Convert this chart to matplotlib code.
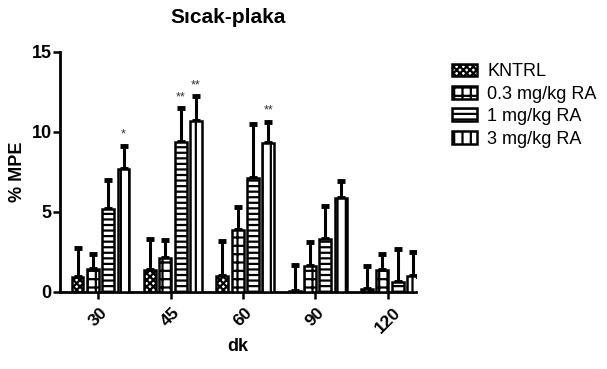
import matplotlib
matplotlib.use("Agg")
import matplotlib.pyplot as plt
import numpy as np

plt.rcParams['font.family'] = ['Liberation Sans', 'DejaVu Sans']
plt.rcParams['hatch.linewidth'] = 1.6

categories = ["30", "45", "60", "90", "120"]
series = ["KNTRL", "0.3 mg/kg RA", "1 mg/kg RA", "3 mg/kg RA"]
kntrl = [0.94, 1.4, 1.0, 0.05, 0.2]
kntrl_err = [1.8, 1.9, 2.2, 1.65, 1.4]
ra03 = [1.44, 2.1, 3.9, 1.6, 1.4]
ra03_err = [0.95, 1.15, 1.4, 1.5, 1.0]
ra1 = [5.2, 9.4, 7.1, 3.3, 0.65]
ra1_err = [1.8, 2.1, 3.4, 2.1, 2.05]
ra3 = [7.7, 10.7, 9.3, 5.9, 1.0]
ra3_err = [1.45, 1.55, 1.35, 1.05, 1.5]
stars = {(0, 3): "*", (1, 2): "**", (1, 3): "**", (2, 3): "**"}

values = [kntrl, ra03, ra1, ra3]
errors = [kntrl_err, ra03_err, ra1_err, ra3_err]
hatches = ["xxxxx", "++", "---", "||"]

fig = plt.figure(figsize=(6.07, 3.69), dpi=100)
ax = fig.add_axes([60/607, 1-292/369, (416-60)/607, (292-52)/369])

x = np.arange(len(categories))
pitch = 0.212
width = 0.165
for k in range(4):
    pos = x + (k - 1.5) * pitch + 0.03
    ax.bar(pos, values[k], width, color="white", edgecolor="black",
           linewidth=1.8, hatch=hatches[k], label=series[k], zorder=3)
    ax.errorbar(pos, values[k], yerr=[np.zeros(len(x)), errors[k]], fmt="none",
                ecolor="black", elinewidth=2.2, capsize=3, capthick=3.5, zorder=2)
    for i in range(len(x)):
        if (i, k) in stars:
            ax.text(pos[i], values[k][i] + errors[k][i] + 0.3, stars[(i, k)],
                    ha="center", va="bottom", fontsize=9, color="#333333")

ax.set_xlim(-0.53, 4.39)
ax.set_ylim(0, 15)
ax.set_yticks([0, 5, 10, 15])
ax.set_xticks(x)
ax.set_xticklabels(categories, rotation=45, fontweight="bold", fontsize=12.5,
                   ha="center", va="top", rotation_mode="default")
for lab in ax.get_yticklabels():
    lab.set_fontweight("bold")
    lab.set_fontsize(13)
ax.spines["top"].set_visible(False)
ax.spines["right"].set_visible(False)
ax.spines["left"].set_linewidth(2)
ax.spines["bottom"].set_linewidth(2)
ax.tick_params(axis="both", width=1.8, length=5, pad=1)
ax.tick_params(axis="x", pad=4)
ax.set_ylabel("% MPE", fontweight="bold", fontsize=13, labelpad=4)
ax.set_xlabel("dk", fontweight="bold", fontsize=13, labelpad=2)
ax.set_title("Sıcak-plaka", fontweight="bold", fontsize=15, pad=21, x=0.472)

leg = fig.legend(loc="upper left", bbox_to_anchor=(436/607, 1-47/369), frameon=False,
                 fontsize=13, handlelength=1.35, handleheight=0.7,
                 handletextpad=0.6, labelspacing=0.3)

fig.savefig("out.png", dpi=100)
